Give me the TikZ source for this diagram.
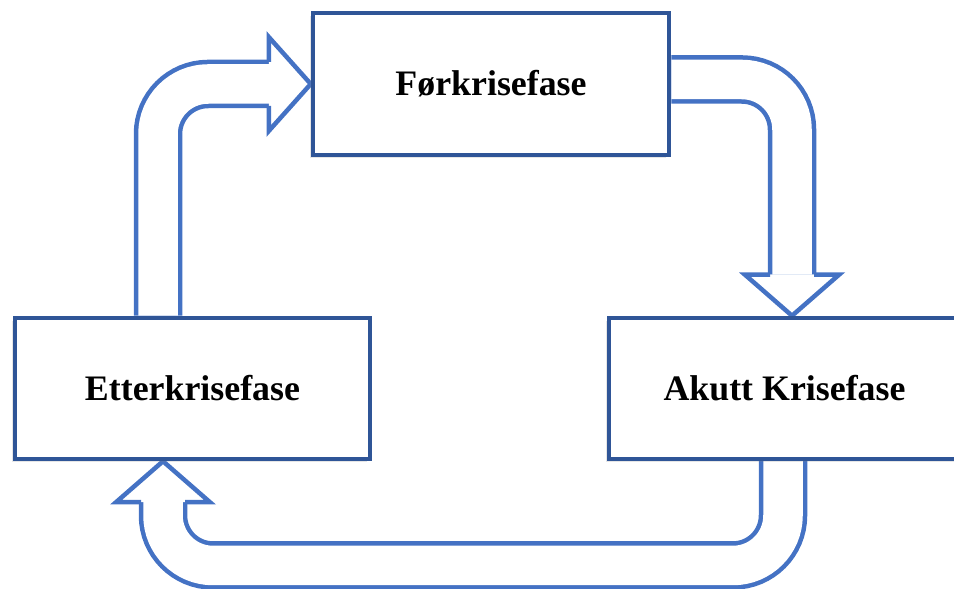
\documentclass[tikz,border=0pt]{standalone}
\usepackage{fontspec}
\setmainfont{Liberation Serif}
\usepackage{tikz}
\usetikzlibrary{calc, backgrounds, shadows}

\definecolor{boksblaa}{RGB}{47,85,151}
\definecolor{pilblaa}{RGB}{68,114,196}

\begin{document}
\begin{tikzpicture}[
    fase/.style={draw=boksblaa, line width=0.09cm, fill=white,
        minimum width=7.1cm, minimum height=2.82cm,
        drop shadow={shadow xshift=-0.06cm, shadow yshift=-0.06cm, opacity=0.2},
        font=\bfseries\fontsize{20.4}{24}\selectfont},
    skaft/.style={draw=pilblaa, line width=0.09cm, double=white,
        double distance=0.79cm, rounded corners=1cm},
    pilhode/.style={draw=pilblaa, line width=0.09cm, fill=white, line join=miter}
]
    \useasboundingbox (0,0) rectangle (19.08,11.78);

    % Fasene
    \node[fase, minimum width=7.12cm, minimum height=2.84cm] (foer) at (9.82,10.10) {Førkrisefase};
    \node[fase] (etter) at (3.85,4.01) {Etterkrisefase};
    \node[fase, minimum width=7.02cm] (akutt) at (15.69,4.01) {Akutt Krisefase};

    % Punkter for pilene
    \coordinate (p1) at ($(etter.north)+(-0.69,0)$);
    \coordinate (p1base) at ($(foer.west)+(-0.84,0)$);
    \coordinate (p2) at ($(foer.east)+(0,0.09)$);
    \coordinate (p2tupp) at ($(akutt.north)+(0.15,0)$);
    \coordinate (p2base) at ($(p2tupp)+(0,0.82)$);
    \coordinate (p3) at ($(akutt.south)+(-0.03,0)$);
    \coordinate (p3tupp) at ($(etter.south)+(-0.59,0)$);
    \coordinate (p3base) at ($(p3tupp)+(0,-0.82)$);
    \coordinate (bunn) at (0,0.47);

    \begin{scope}[on background layer]
        % Etterkrisefase -> Førkrisefase
        \draw[skaft] (p1) |- (p1base);
        \draw[pilhode] ($(p1base)+(0,0.44)$) -- ($(p1base)+(0,0.94)$) -- (foer.west)
            -- ($(p1base)+(0,-0.94)$) -- ($(p1base)+(0,-0.44)$);

        % Førkrisefase -> Akutt Krisefase
        \draw[skaft] (p2) -| (p2base);
        \draw[pilhode] ($(p2base)+(-0.44,0)$) -- ($(p2base)+(-0.94,0)$) -- (p2tupp)
            -- ($(p2base)+(0.94,0)$) -- ($(p2base)+(0.44,0)$);

        % Akutt Krisefase -> Etterkrisefase
        \draw[skaft] (p3) -- (p3 |- bunn) -- (p3base |- bunn) -- (p3base);
        \draw[pilhode] ($(p3base)+(-0.44,0)$) -- ($(p3base)+(-0.94,0)$) -- (p3tupp)
            -- ($(p3base)+(0.94,0)$) -- ($(p3base)+(0.44,0)$);
    \end{scope}

\end{tikzpicture}
\end{document}
